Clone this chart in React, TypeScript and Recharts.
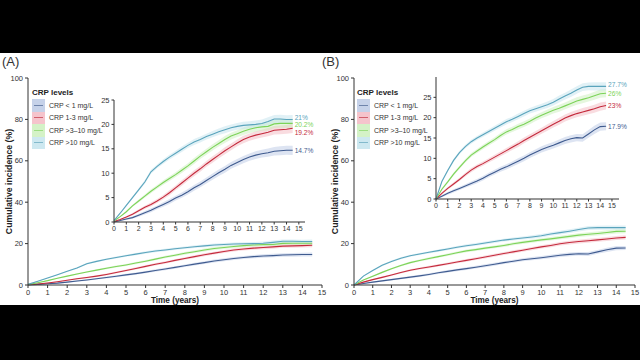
import React from 'react';
import { ComposedChart, Line, Area, XAxis, YAxis } from 'recharts';

// time points (years)
const times = [0, 0.5, 1, 1.5, 2, 2.5, 3, 3.5, 4, 4.5, 5, 5.5, 6, 6.5, 7, 7.5, 8, 8.5, 9, 9.5, 10, 10.5, 11, 11.5, 12, 12.5, 13, 13.5, 14, 14.5];

// Panel A cumulative incidence (%)
const blueA = [0, 0.3, 0.6, 0.9, 1.4, 1.9, 2.4, 3.0, 3.6, 4.2, 4.9, 5.5, 6.2, 7.0, 7.7, 8.5, 9.3, 10.1, 10.8, 11.6, 12.2, 12.8, 13.3, 13.7, 14.0, 14.2, 14.5, 14.6, 14.7, 14.7];
const redA = [0.1, 0.5, 1.0, 1.6, 2.3, 3.0, 3.6, 4.3, 5.1, 6.0, 7.0, 8.0, 9.0, 10.0, 10.9, 11.9, 12.8, 13.7, 14.6, 15.4, 16.2, 16.9, 17.4, 17.8, 18.1, 18.4, 18.8, 18.9, 19.0, 19.2];
const greenA = [0.2, 1.1, 2.1, 3.3, 4.3, 5.3, 6.3, 7.2, 8.1, 8.9, 9.7, 10.6, 11.5, 12.5, 13.5, 14.4, 15.3, 16.1, 16.9, 17.6, 18.1, 18.6, 19.0, 19.3, 19.5, 19.6, 20.1, 20.2, 20.2, 20.2];
const tealA = [0.3, 1.8, 3.4, 5.0, 6.6, 8.2, 10.3, 11.4, 12.4, 13.3, 14.1, 14.9, 15.7, 16.4, 16.9, 17.5, 18.0, 18.5, 18.9, 19.3, 19.6, 19.8, 19.9, 20.0, 20.2, 20.6, 21.1, 21.1, 21.0, 21.0];
// CI half-width (percentage points) panel A
const ciA = [0, 0.1, 0.2, 0.25, 0.3, 0.35, 0.4, 0.4, 0.45, 0.5, 0.5, 0.55, 0.55, 0.6, 0.6, 0.6, 0.65, 0.65, 0.7, 0.7, 0.7, 0.75, 0.75, 0.8, 0.8, 0.85, 0.85, 0.9, 0.9, 0.95];

// Panel B cumulative incidence (%)
const blueB = [0, 0.7, 1.4, 2.0, 2.6, 3.2, 3.8, 4.4, 5.1, 5.9, 6.6, 7.3, 7.9, 8.6, 9.3, 10.0, 10.8, 11.5, 12.2, 12.7, 13.2, 13.8, 14.4, 14.8, 15.1, 15.0, 16.0, 17.0, 17.8, 17.9];
const redB = [0, 1.4, 2.6, 3.7, 4.8, 6.0, 7.1, 8.0, 8.7, 9.5, 10.3, 11.1, 11.9, 12.7, 13.5, 14.4, 15.2, 16.0, 16.8, 17.6, 18.4, 19.1, 19.9, 20.5, 21.0, 21.4, 21.8, 22.2, 22.7, 23.0];
const greenB = [0, 2.4, 4.2, 6.1, 7.8, 9.4, 10.8, 11.8, 12.8, 13.7, 14.6, 15.6, 16.5, 17.1, 17.8, 18.4, 19.1, 19.9, 20.6, 21.2, 21.8, 22.3, 22.9, 23.5, 24.1, 24.5, 24.9, 25.4, 25.9, 26.0];
const tealB = [0, 4.3, 7.0, 9.5, 11.4, 12.9, 14.1, 15.0, 15.8, 16.6, 17.4, 18.2, 19.0, 19.6, 20.3, 21.0, 21.7, 22.2, 22.7, 23.2, 23.8, 24.6, 25.3, 26.0, 26.8, 27.5, 27.7, 27.7, 27.7, 27.7];
const ciB = [0, 0.3, 0.35, 0.4, 0.4, 0.45, 0.5, 0.5, 0.55, 0.55, 0.6, 0.6, 0.65, 0.65, 0.7, 0.7, 0.7, 0.75, 0.75, 0.8, 0.8, 0.85, 0.85, 0.9, 0.9, 0.95, 0.95, 1.0, 1.0, 1.0];

const endLabelsA = ['14.7%', '19.2%', '20.2%', '21%'];
const endLabelsB = ['17.9%', '23%', '26%', '27.7%'];

const xTicks = [0, 1, 2, 3, 4, 5, 6, 7, 8, 9, 10, 11, 12, 13, 14, 15];
const mainYTicks = [0, 20, 40, 60, 80, 100];
const insetYTicks = [0, 5, 10, 15, 20, 25];

const FONT = '"Liberation Sans", Arial, Helvetica, sans-serif';
const AXIS = '#333';

const SERIES = [
  { key: 'blue', name: 'CRP < 1 mg/L', color: '#3f5b8f', band: '#b4c4e2' },
  { key: 'red', name: 'CRP 1-3 mg/L', color: '#c42a3c', band: '#f2b1bb' },
  { key: 'green', name: 'CRP >3\u201310 mg/L', color: '#7cd358', band: '#c6eeb5' },
  { key: 'teal', name: 'CRP >10 mg/L', color: '#5aa4bc', band: '#bde1eb' },
];

function buildRows(blue: number[], red: number[], green: number[], teal: number[], ci: number[]) {
  const src: Record<string, number[]> = { blue, red, green, teal };
  return times.map((t, i) => {
    const row: any = { t };
    for (const s of SERIES) {
      const v = src[s.key][i];
      row[s.key] = v;
      row[s.key + 'Band'] = [Math.max(0, v - ci[i]), v + ci[i]];
    }
    return row;
  });
}

const rowsA = buildRows(blueA, redA, greenA, tealA, ciA);
const rowsB = buildRows(blueB, redB, greenB, tealB, ciB);

const labelDyA = [0, 4, 1.5, -2.5];
const labelDyB = [0, 0, 0, -2];

const tickStyle = (size: number) => ({ fontSize: size, fill: '#333', stroke: 'none', fontFamily: FONT });

function MainChart({ rows, left, yw, right }: any) {
  return (
    <div style={{ position: 'absolute', left, top: 70 }}>
      <ComposedChart width={right} height={245} data={rows} margin={{ top: 8, right: right === 330 ? 8 : 5, left: 0, bottom: 0 }}>
        <XAxis
          type="number" dataKey="t" domain={[0, 15]} ticks={xTicks} interval={0}
          stroke={AXIS} tickSize={3} height={30}
          tick={tickStyle(7.5)}
          label={(p: any) => {
            const vb = p.viewBox;
            return (
              <text x={vb.x + vb.width / 2} y={vb.y + 18} textAnchor="middle" fontSize={8.2} fontWeight="bold" fill="#222" fontFamily={FONT}>
                Time (years)
              </text>
            );
          }}
        />
        <YAxis
          type="number" domain={[0, 100]} ticks={mainYTicks} interval={0}
          stroke={AXIS} tickSize={3} width={yw}
          tick={tickStyle(7.5)}
          label={(p: any) => {
            const vb = p.viewBox;
            const cx = vb.x + (yw === 28 ? 9 : 15);
            const cy = vb.y + vb.height / 2;
            return (
              <text x={cx} y={cy} transform={`rotate(-90 ${cx} ${cy})`} textAnchor="middle" dominantBaseline="central" fontSize={8.7} fontWeight="bold" fill="#222" fontFamily={FONT}>
                Cumulative incidence (%)
              </text>
            );
          }}
        />
        {SERIES.map((s) => (
          <Area key={s.key + 'b'} dataKey={s.key + 'Band'} type="linear" stroke="none" fill={s.band} fillOpacity={0.45} isAnimationActive={false} />
        ))}
        {SERIES.map((s) => (
          <Line key={s.key} dataKey={s.key} type="linear" stroke={s.color} strokeWidth={1.1} dot={false} isAnimationActive={false} />
        ))}
      </ComposedChart>
    </div>
  );
}

function InsetChart({ rows, left, top, width, height, marginTop, marginRight, yw, xMax, yMax, labels, dys }: any) {
  const last = rows.length - 1;
  return (
    <div style={{ position: 'absolute', left, top }}>
      <ComposedChart width={width} height={height} data={rows} margin={{ top: marginTop, right: marginRight, left: 0, bottom: 0 }}>
        <XAxis
          type="number" dataKey="t" domain={[0, xMax]} ticks={xTicks} interval={0}
          stroke={AXIS} tickSize={2.5} height={14}
          tick={tickStyle(7)}
        />
        <YAxis
          type="number" domain={[0, yMax]} ticks={insetYTicks} interval={0}
          stroke={AXIS} tickSize={2.5} width={yw}
          tick={tickStyle(7.5)}
        />
        {SERIES.map((s) => (
          <Area key={s.key + 'b'} dataKey={s.key + 'Band'} type="linear" stroke="none" fill={s.band} fillOpacity={0.45} isAnimationActive={false} />
        ))}
        {SERIES.map((s, si) => (
          <Line
            key={s.key} dataKey={s.key} type="linear" stroke={s.color} strokeWidth={1.1} dot={false} isAnimationActive={false}
            label={(p: any) =>
              p.index === last ? (
                <text x={p.x + 2} y={p.y + dys[si]} fontSize={6.6} fill={s.color} dominantBaseline="central" fontFamily={FONT}>
                  {labels[si]}
                </text>
              ) : (
                <g />
              )
            }
          />
        ))}
      </ComposedChart>
    </div>
  );
}

function LegendBox({ left }: { left: number }) {
  return (
    <div style={{ position: 'absolute', left, top: 86, fontFamily: FONT }}>
      <div style={{ fontSize: 8, fontWeight: 'bold', color: '#222', height: 13, lineHeight: '13px' }}>CRP levels</div>
      {SERIES.map((s) => (
        <div key={s.key} style={{ display: 'flex', alignItems: 'center', height: 12.5 }}>
          <div style={{ position: 'relative', width: 13, height: 12.5, background: s.band, opacity: 0.75 }}>
            <div style={{ position: 'absolute', left: 2, right: 2, top: 5.5, height: 1.2, background: s.color }} />
          </div>
          <span style={{ fontSize: 7, color: '#333', marginLeft: 4, whiteSpace: 'nowrap' }}>{s.name}</span>
        </div>
      ))}
    </div>
  );
}

export default function App() {
  return (
    <div style={{ position: 'absolute', left: 0, top: 0, width: 640, height: 360, background: '#000', overflow: 'hidden' }}>
      <div style={{ position: 'absolute', left: 0, top: 53, width: 640, height: 252, background: '#fff' }} />
      <div style={{ position: 'absolute', left: 2, top: 54, fontSize: 13, fontFamily: FONT, color: '#333' }}>(A)</div>
      <div style={{ position: 'absolute', left: 322, top: 54, fontSize: 13, fontFamily: FONT, color: '#333' }}>(B)</div>
      <MainChart rows={rowsA} left={0} yw={28} right={330} />
      <MainChart rows={rowsB} left={320} yw={34} right={320} />
      <LegendBox left={32} />
      <LegendBox left={357} />
      <InsetChart rows={rowsA} left={100} top={90} width={225} height={146} marginTop={10} marginRight={20} yw={14} xMax={15.5} yMax={25} labels={endLabelsA} dys={labelDyA} />
      <InsetChart rows={rowsB} left={420} top={70} width={224} height={143} marginTop={7} marginRight={25} yw={16} xMax={15.6} yMax={30} labels={endLabelsB} dys={labelDyB} />
    </div>
  );
}
